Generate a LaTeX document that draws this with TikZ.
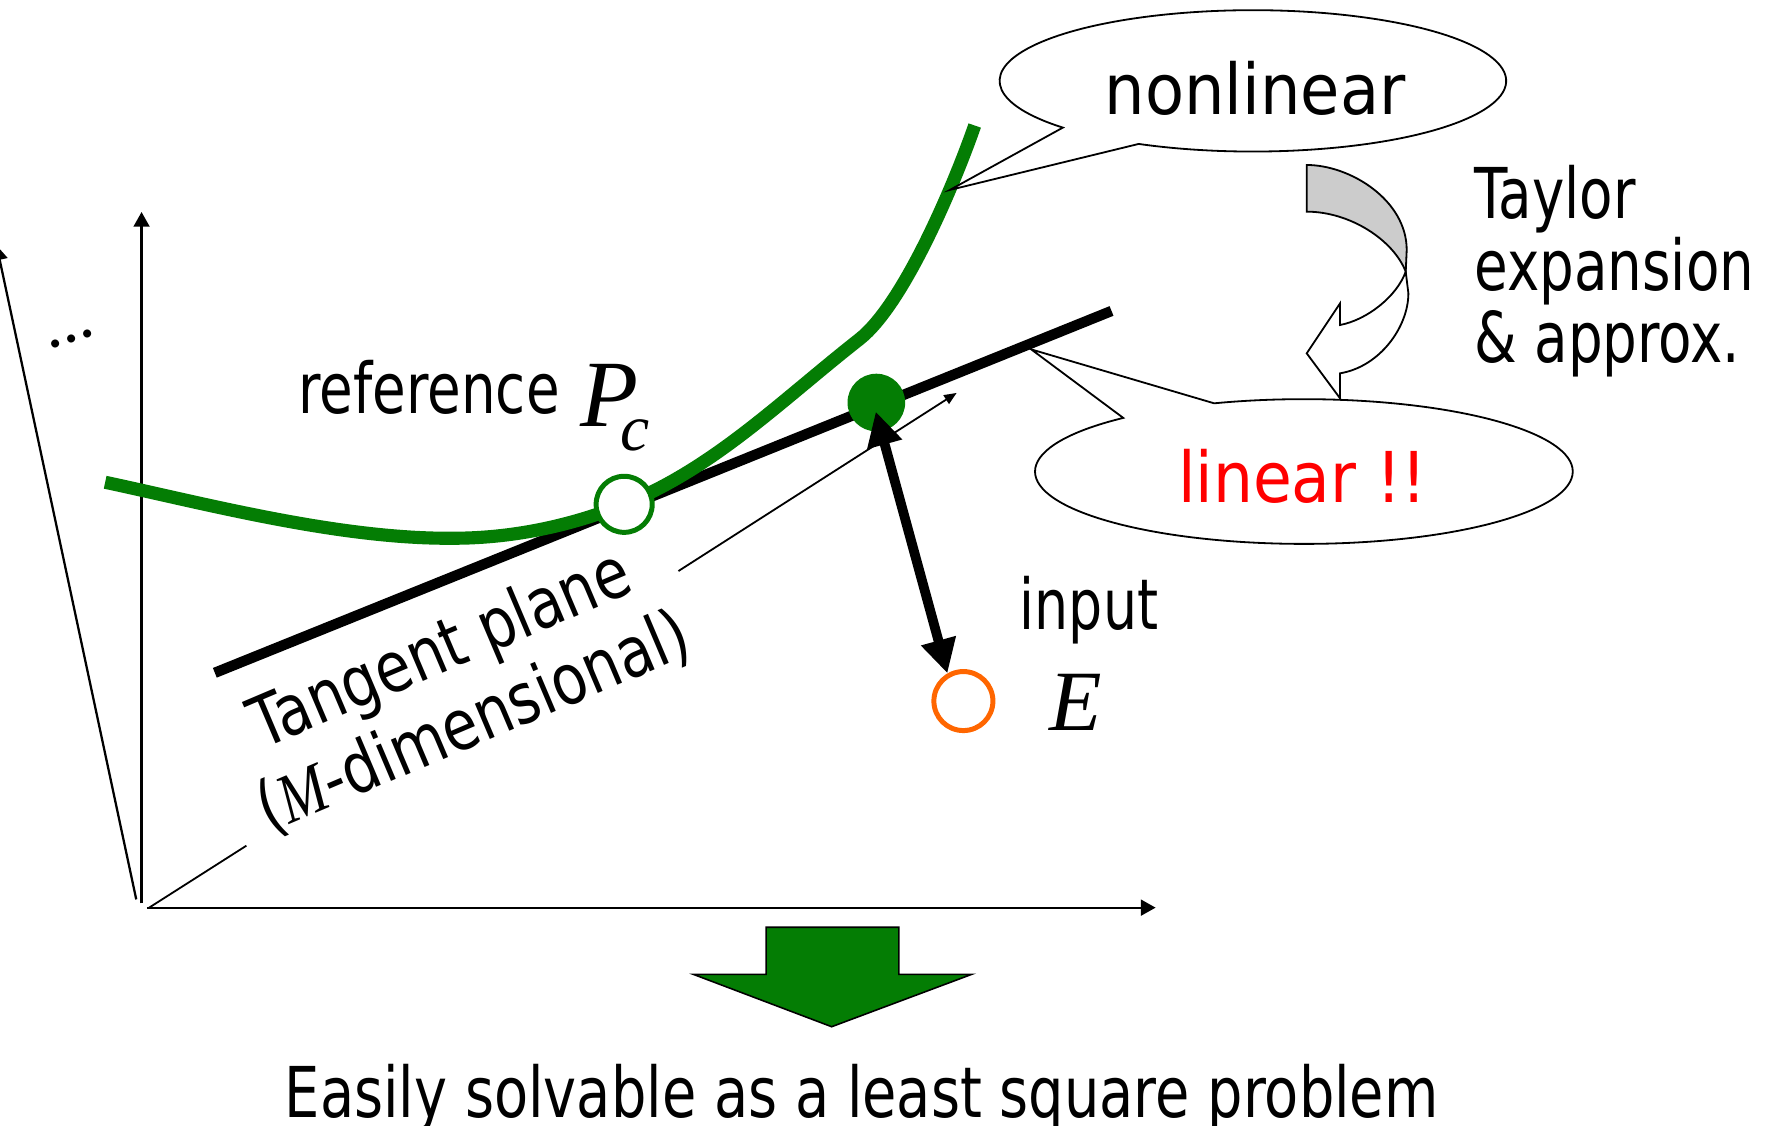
\documentclass[tikz,border=0pt]{standalone}
\usepackage{graphicx}
\usepackage{fontspec}
\setmainfont{DejaVu Sans}
\newfontfamily\tms{Liberation Serif}
\usetikzlibrary{arrows.meta}
\definecolor{gr}{RGB}{4,125,4}
\definecolor{org}{RGB}{255,102,0}
\definecolor{lgray}{RGB}{204,204,204}
\newcommand\sx[2]{\scalebox{#1}[1]{\fontsize{31}{36}\selectfont #2}}
\tikzset{bigtip/.tip={Triangle[length=15pt,width=15pt]},
  axtip/.tip={Triangle[length=6.5pt,width=7pt]},
  smalltip/.tip={Triangle[length=5.5pt,width=4.5pt]}}
\begin{document}
\begin{tikzpicture}[x=0.5pt,y=-0.5pt,
  axis/.style={line width=1pt},
  txt/.style={inner sep=0pt, outer sep=0pt},
  callout/.style={draw, line width=0.8pt, fill=white}]
\useasboundingbox (0,0) rectangle (1568,995);

% axes
\coordinate (vA) at (125.2,799);   \coordinate (vB) at (125.2,187.5);
\coordinate (hA) at (129.9,802.7); \coordinate (hB) at (1022,802.7);
\coordinate (oA) at (120.5,795.4); \coordinate (oB) at (-3,217);
\coordinate (dA) at (131.9,802.7); \coordinate (dB) at (217.9,747.9);
\coordinate (dC) at (600,505);     \coordinate (dD) at (846,347.5);
\draw[axis,-axtip] (vA) -- (vB);
\draw[axis,-axtip] (hA) -- (hB);
\draw[axis,-axtip] (oA) -- (oB);
\draw[line width=0.8pt] (dA) -- (dB);
\draw[line width=0.8pt,-smalltip] (dC) -- (dD);

\node[txt, rotate=18] (dots) at (63.4,300) {\fontsize{30}{32}\selectfont\tms ...};

% tangent plane text
\node[txt, anchor=base west, rotate=23] (tp1) at (232,663) {\sx{0.82}{Tangent plane}};
\node[txt, anchor=base west, rotate=23] (tp2) at (238,737) {\sx{0.82}{({\tms\itshape M}-dimensional)}};

% tangent line
\coordinate (tl1) at (190,595); \coordinate (tl2) at (983,275);
\draw[line width=4.6pt] (tl1) -- (tl2);

% green curve
\draw[gr, line width=5.8pt] (93,426.5) .. controls (180,445) and (300,477) .. (401,476)
  .. controls (450,476) and (502,466.2) .. (552,446)
  .. controls (632,413.7) and (690,355) .. (760,300)
  .. controls (800,268.6) and (845,160) .. (862,111);

% points
\node[circle, draw=gr, fill=white, line width=2.2pt, minimum size=24.8pt, inner sep=0pt] (Pc) at (552,446) {};
\node[circle, fill=gr, minimum size=25.5pt, inner sep=0pt] (gdot) at (775,356) {};
\node[circle, draw=org, fill=white, line width=2.2pt, minimum size=26.1pt, inner sep=0pt] (Eo) at (852,620) {};
\coordinate (ptop) at (774.5,364);
\draw[line width=4.3pt, bigtip-bigtip] (ptop) -- (Eo.120);

% labels
\node[txt, anchor=base west] (ref) at (264,366) {\sx{0.78}{reference}};
\node[txt, anchor=base west] (P) at (513,377) {\fontsize{42}{44}\selectfont\tms\itshape P};
\node[txt, anchor=base west] (c) at (549,398) {\fontsize{29}{30}\selectfont\tms\itshape c};
\node[txt, anchor=base west] (inp) at (902,557) {\sx{0.767}{input}};
\node[txt, anchor=base west] (Elab) at (928,645.6) {\fontsize{38}{40}\selectfont\tms\itshape E};

% nonlinear callout
\coordinate (nltip) at (840,168);
\draw[callout] (1007,127.3) arc[start angle=243.2, end angle=581.4, x radius=112pt, y radius=31.25pt] -- (nltip) -- cycle;
\node[txt, anchor=base] (nl) at (1110,101) {\sx{0.911}{nonlinear}};

% linear callout
\coordinate (lintip) at (912,309);
\draw[callout] (993.4,369.6) arc[start angle=132.2, end angle=469.5, x radius=118.9pt, y radius=32pt] -- (lintip) -- cycle;
\node[txt, anchor=base, text=red] (lin) at (1152,444.6) {\sx{0.9}{linear !!}};

% curved Taylor arrow
\begin{scope}[shift={(1105.5,123.8)}, scale=0.2948, line width=0.8pt]
  \draw[fill=lgray] (170,75) .. controls (300,75) and (470,180) .. (470,330)
     -- (467,395) .. controls (430,300) and (300,215) .. (170,215) -- cycle;
  \draw[fill=white] (467,395) .. controls (440,470) and (350,540) .. (270,555)
     -- (270,490) -- (170,640) -- (270,775) -- (270,700)
     .. controls (390,680) and (475,560) .. (475,460) -- cycle;
\end{scope}
\node[txt, anchor=base west] (tay1) at (1304,193) {\sx{0.78}{Taylor}};
\node[txt, anchor=base west] (tay2) at (1304,257) {\sx{0.78}{expansion}};
\node[txt, anchor=base west] (tay3) at (1304,321) {\sx{0.78}{\& approx.}};

% down arrow
\draw[fill=gr, line width=0.7pt] (677.5,820) -- (795,820) -- (795,861.7) -- (859.3,861.7)
  -- (735.5,908) -- (613.2,861.7) -- (677.5,861.7) -- cycle;
\node[txt, anchor=base] (res) at (762,988) {\sx{0.796}{Easily solvable as a least square problem}};
\end{tikzpicture}
\end{document}
